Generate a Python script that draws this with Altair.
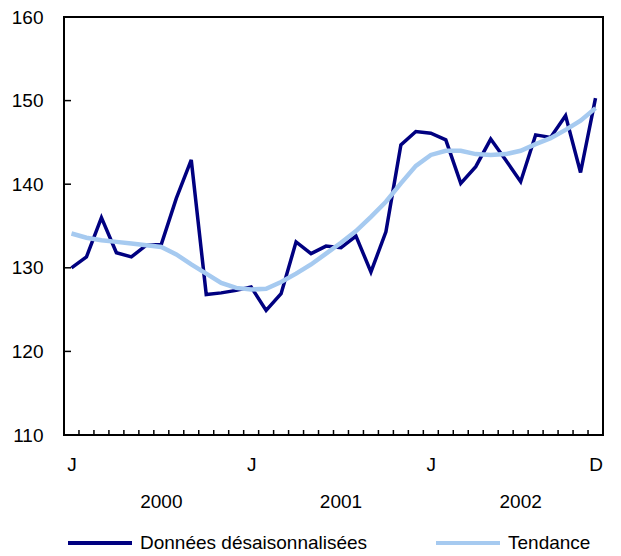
import altair as alt
import pandas as pd

# Monthly data, Jan 2000 .. Dec 2002 (month index 0..35)
seasonal = [130.0, 131.3, 136.0, 131.8, 131.3, 132.7, 132.8, 138.3, 142.9, 126.8, 127.0, 127.3,
            127.7, 124.9, 126.9, 133.1, 131.7, 132.6, 132.4, 133.8, 129.5, 134.3, 144.7, 146.3,
            146.1, 145.3, 140.1, 142.1, 145.4, 142.9, 140.3, 145.9, 145.6, 148.2, 141.4, 150.3]
trend = [134.1, 133.6, 133.3, 133.1, 132.9, 132.7, 132.5, 131.6, 130.4, 129.3, 128.2, 127.6,
         127.4, 127.5, 128.3, 129.3, 130.4, 131.7, 133.0, 134.4, 136.1, 137.9, 140.1, 142.2,
         143.5, 144.0, 144.0, 143.6, 143.5, 143.6, 144.0, 144.8, 145.5, 146.5, 147.6, 149.1]
series_names = ["Données désaisonnalisées", "Tendance"]
series_colors = ["#000080", "#a6caf0"]
month_tick_pos = [0, 12, 24, 35]
month_tick_labels = ["J", "J", "J", "D"]
years = ["2000", "2001", "2002"]
year_pos = [6, 18, 30]
y_ticks = [110, 120, 130, 140, 150, 160]

FONT = "Liberation Sans, Arial, sans-serif"
FS = 19
W, H = 539, 418

n = len(seasonal)
df_s = pd.DataFrame({"m": list(range(n)), "v": seasonal, "series": series_names[0]})
df_t = pd.DataFrame({"m": list(range(n)), "v": trend, "series": series_names[1]})
df_xt = pd.DataFrame({"m": [i + 0.5 for i in range(n - 1)]})
df_yt = pd.DataFrame({"v": y_ticks[1:-1]})
df_years = pd.DataFrame({"m": year_pos, "label": years})

label_expr = " : ".join(
    [f"datum.value == {p} ? '{l}'" for p, l in zip(month_tick_pos, month_tick_labels)]
) + " : ''"

xscale = alt.Scale(domain=[-0.5, n - 0.5], nice=False, zero=False)
yscale = alt.Scale(domain=[110, 160], nice=False, zero=False)
cscale = alt.Scale(domain=series_names, range=series_colors)

x_enc = alt.X("m:Q", scale=xscale, axis=alt.Axis(
    values=month_tick_pos, labelExpr=label_expr, ticks=False, domain=False, grid=False,
    labelPadding=20, labelFontSize=FS, labelFont=FONT, labelColor="black", title=None,
    labelFlush=False))
y_enc = alt.Y("v:Q", scale=yscale, axis=alt.Axis(
    values=y_ticks, ticks=False, domain=False, grid=False, labelPadding=21,
    labelFontSize=FS, labelFont=FONT, labelColor="black", title=None))

legend = alt.Legend(
    orient="none", legendX=2, legendY=492, direction="horizontal", title=None,
    symbolType="stroke", symbolSize=4096, symbolStrokeWidth=4, labelFontSize=FS,
    labelFont=FONT, labelColor="black", labelOffset=6, labelLimit=500,
    columnPadding=60, padding=0)

dark = alt.Chart(df_s).mark_line(strokeWidth=3.5).encode(
    x=x_enc, y=y_enc, color=alt.Color("series:N", scale=cscale, legend=legend))
light = alt.Chart(df_t).mark_line(strokeWidth=4.5).encode(
    x="m:Q", y="v:Q", color=alt.Color("series:N", scale=cscale, legend=legend))

xticks = alt.Chart(df_xt).mark_rule(color="black", strokeWidth=1.5).encode(
    x="m:Q", y=alt.value(H), y2=alt.value(H - 5))
yticks = alt.Chart(df_yt).mark_rule(color="black", strokeWidth=1.5).encode(
    y="v:Q", x=alt.value(0), x2=alt.value(7))
year_text = alt.Chart(df_years).mark_text(
    fontSize=FS, font=FONT, color="black", baseline="middle", align="center").encode(
    x="m:Q", y=alt.value(485), text="label:N")

chart = alt.layer(dark, light, xticks, yticks, year_text).properties(
    width=W, height=H,
    background="white",
    autosize=alt.AutoSizeParams(type="none"),
    padding={"left": 56, "top": 9, "right": 10, "bottom": 120},
).configure_view(stroke="black", strokeWidth=2)

chart.save("out.html", embed_options={"renderer": "svg", "actions": False})
